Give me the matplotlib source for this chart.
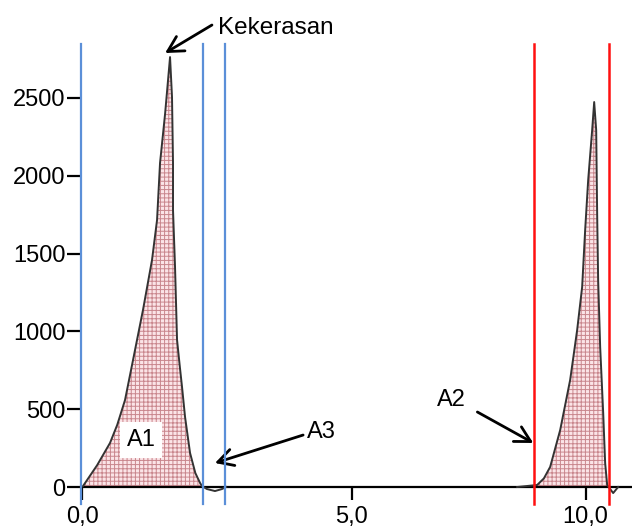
import matplotlib
matplotlib.use("Agg")
import matplotlib.pyplot as plt
import numpy as np

plt.rcParams['font.family'] = ['Liberation Sans', 'DejaVu Sans']
plt.rcParams['hatch.linewidth'] = 0.7

# Peak 1 (retention time, signal)
peak1_x = [0.02, 0.30, 0.556, 0.70, 0.854, 1.013, 1.211, 1.390, 1.49, 1.549, 1.65, 1.748, 1.787,
           1.807, 1.807, 1.847, 1.887, 1.94, 1.986, 2.046, 2.145, 2.25, 2.344, 2.383,
           2.48, 2.64, 2.78, 2.86]
peak1_y = [6, 140, 283, 400, 559, 816, 1138, 1459, 1716, 2082, 2400, 2763, 2506,
           2082, 1780, 1414, 945, 780, 643, 450, 219, 90, 26, 6,
           -13, -26, -13, 0]

# Peak 2
peak2_x = [8.64, 9.037, 9.17, 9.295, 9.494, 9.692, 9.831, 9.930, 9.990, 10.050, 10.129,
           10.169, 10.209, 10.228, 10.248, 10.288, 10.348, 10.387, 10.427,
           10.546, 10.645]
peak2_y = [0, 13, 55, 129, 366, 688, 1009, 1285, 1652, 1973, 2294,
           2474, 2294, 1761, 1330, 900, 476, 154, 13,
           -39, 0]

# integration boundaries
blue_lines = [-0.02, 2.403, 2.84]
red_lines = [8.977, 10.467]

yticks = [0, 500, 1000, 1500, 2000, 2500]
xtick_pos = [0.0, 5.36, 10.0]
xtick_labels = ['0,0', '5,0', '10,0']

fig = plt.figure(figsize=(6.32, 5.27), dpi=100)
ax = fig.add_axes([81/632, 1 - 487/527, 1 - 81/632, (487 - 44)/527])
ax.set_xlim(-0.02, 10.92)
ax.set_ylim(0, 2847)

fill_kw = dict(facecolor='#fbe4e7', edgecolor='#c9868d', linewidth=0, hatch='++++')

p1x = np.array(peak1_x); p1y = np.array(peak1_y)
m1 = p1x <= 2.383
ax.fill_between(p1x[m1], 0, p1y[m1], **fill_kw)
p2x = np.array(peak2_x); p2y = np.array(peak2_y)
m2 = (p2x >= 9.0) & (p2x <= 10.427)
ax.fill_between(p2x[m2], 0, p2y[m2], **fill_kw)

ax.plot(peak1_x, peak1_y, color='#333333', lw=1.4, clip_on=False, zorder=4)
ax.plot(peak2_x, peak2_y, color='#333333', lw=1.4, clip_on=False, zorder=4)

for xv in blue_lines:
    ax.plot([xv, xv], [-109, 2847], color='#5b8fd8', lw=1.6, clip_on=False, zorder=5)
for xv in red_lines:
    ax.plot([xv, xv], [-109, 2847], color='#ff1010', lw=1.8, clip_on=False, zorder=5)

for s in ['top', 'right', 'left']:
    ax.spines[s].set_visible(False)
ax.spines['bottom'].set_linewidth(1.6)
ax.spines['bottom'].set_zorder(3)

ax.set_yticks(yticks)
ax.set_yticklabels([str(v) for v in yticks])
ax.set_xticks(xtick_pos)
ax.set_xticklabels(xtick_labels)
ax.tick_params(axis='y', length=10, width=1.6, pad=1, labelsize=17)
ax.tick_params(axis='x', length=9.5, width=1.6, pad=4.5, labelsize=17)

arrow_kw = dict(arrowstyle='->,head_length=0.55,head_width=0.3', color='black',
                lw=2, mutation_scale=20, shrinkA=0, shrinkB=0)

ax.annotate('', xy=(1.65, 2789), xytext=(2.58, 2969), arrowprops=arrow_kw,
            annotation_clip=False)
ax.text(2.70, 2950, 'Kekerasan', fontsize=17.5, ha='left', va='center', clip_on=False)

ax.annotate('', xy=(2.64, 154), xytext=(4.39, 334), arrowprops=arrow_kw)
ax.text(4.75, 353, 'A3', fontsize=17, ha='center', va='center')

ax.annotate('', xy=(8.96, 283), xytext=(7.85, 482), arrowprops=arrow_kw)
ax.text(7.33, 559, 'A2', fontsize=17, ha='center', va='center')

ax.text(1.17, 302, 'A1', fontsize=17, ha='center', va='center', zorder=6,
        bbox=dict(facecolor='white', edgecolor='none', pad=5))

fig.savefig('out.png', dpi=100)
